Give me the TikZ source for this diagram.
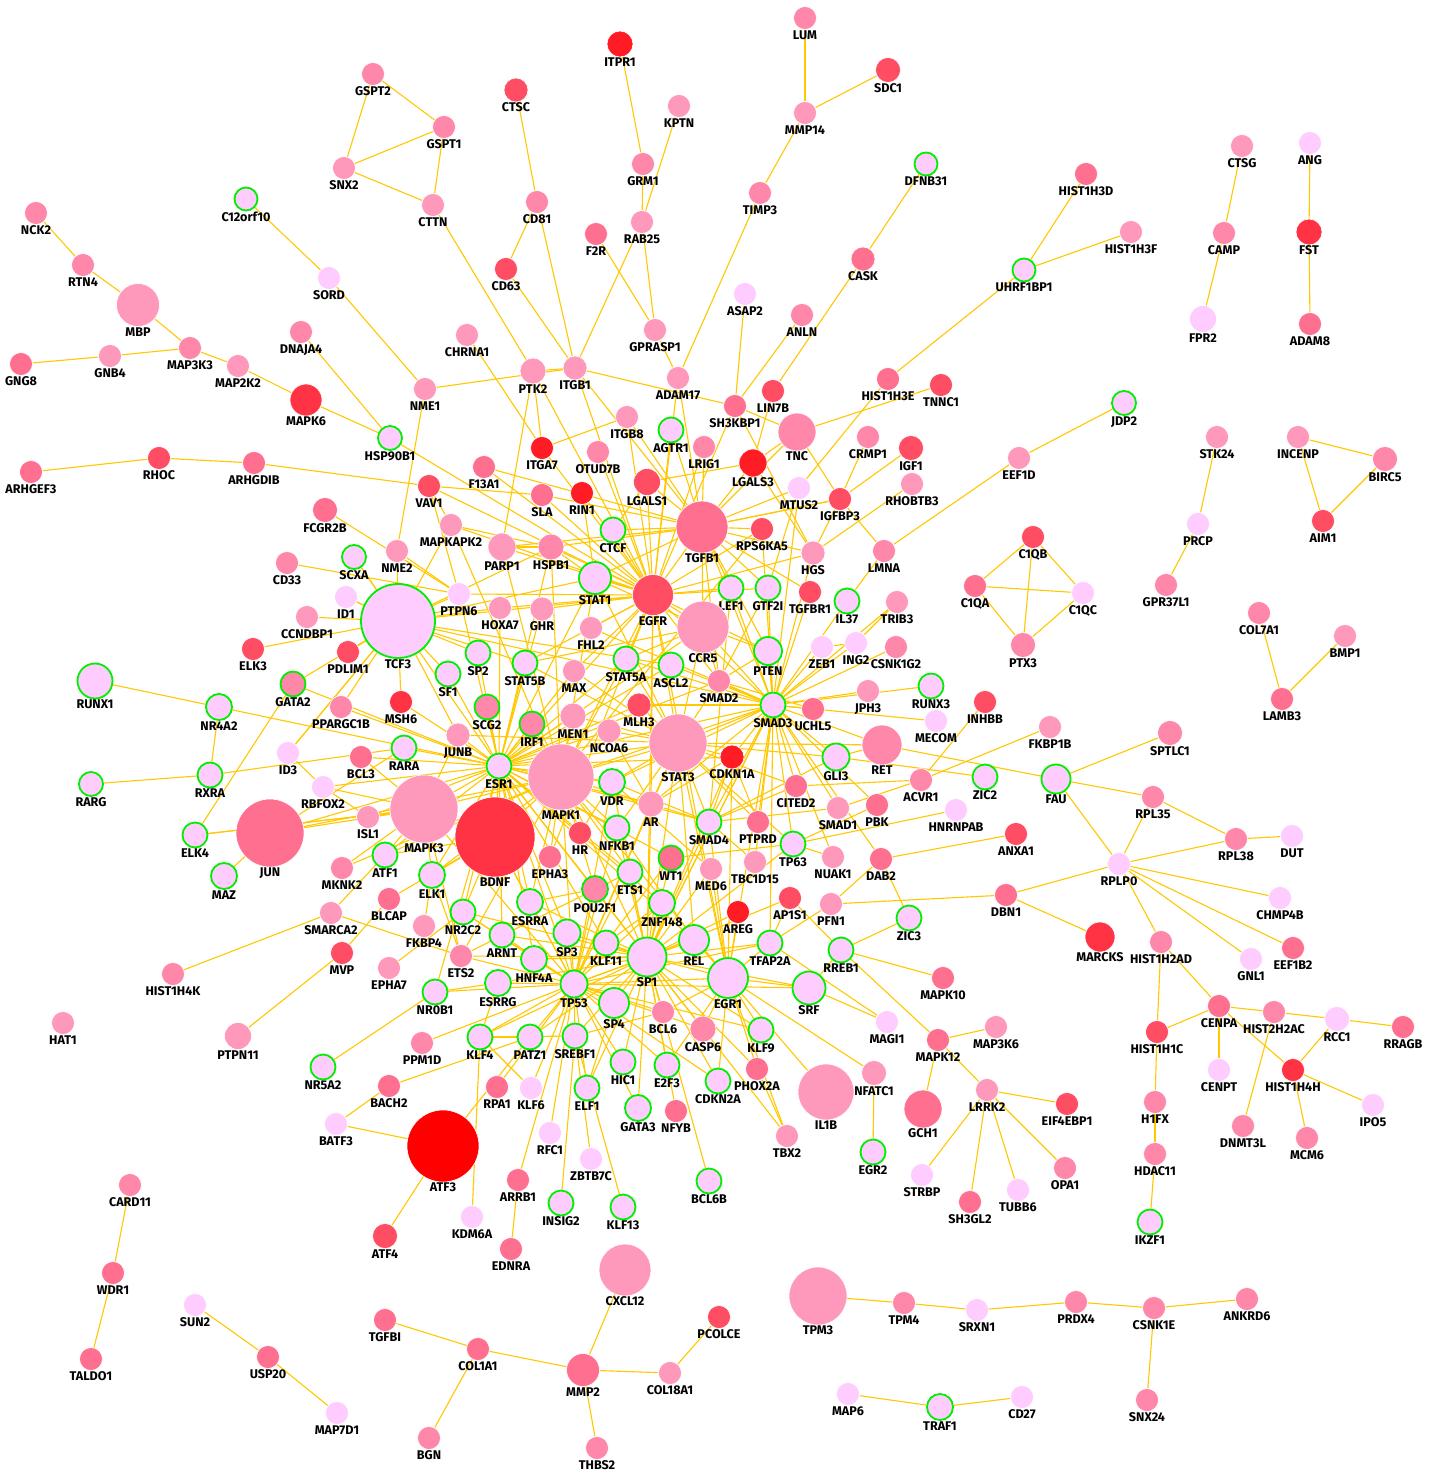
\documentclass[tikz,border=0pt]{standalone}
\usepackage{fontspec}
\newfontfamily\lblfont{Fira Sans}
\pgfdeclarelayer{back}
\pgfdeclarelayer{bg}
\pgfsetlayers{back,bg,main}
\definecolor{c0}{HTML}{FFCCFF}
\definecolor{c1}{HTML}{FF99BB}
\definecolor{c2}{HTML}{FF88AA}
\definecolor{c3}{HTML}{FF7090}
\definecolor{c4}{HTML}{FF4D63}
\definecolor{c5}{HTML}{FF3344}
\definecolor{c6}{HTML}{FF1C24}
\definecolor{c7}{HTML}{FF0000}
\definecolor{grn}{HTML}{00EE00}
\definecolor{edc}{HTML}{FFC800}
\newcommand\gnode[6]{\node[nd,minimum size={2*#4},fill=#5,#6,label={[lb]below:#1}] (#1) at (#2,#3) {};}
\begin{document}
\begin{tikzpicture}[x=1pt,y=-1pt,
  nd/.style={circle,inner sep=0pt,draw=white,line width=0.6pt},
  gr/.style={draw=grn,line width=1.8pt},
  lb/.style={font=\lblfont\bfseries\fontsize{12.6}{13}\selectfont,inner sep=0.3pt,text=black},
  ed/.style={draw=edc,line width=1.1pt}]
\begin{pgfonlayer}{back}
\fill[white] (0,0) rectangle (1440,1477);
\end{pgfonlayer}
\useasboundingbox (0,0) rectangle (1440,1477);
% ---- nodes
\gnode{NCK2}{36}{213}{11.5}{c2}{}
\gnode{RTN4}{83}{265}{11.5}{c2}{}
\gnode{MBP}{138}{305}{21.5}{c1}{}
\gnode{GNG8}{21}{364}{11.5}{c3}{}
\gnode{GNB4}{110}{356}{11.5}{c1}{}
\gnode{MAP3K3}{190}{348}{11.5}{c2}{}
\gnode{MAP2K2}{238}{366}{11.5}{c1}{}
\gnode{C12orf10}{246}{199}{11.5}{c0}{gr}
\gnode{SORD}{329}{278}{11.5}{c0}{}
\gnode{GSPT2}{373}{74}{11.5}{c2}{}
\gnode{GSPT1}{444}{127}{11.5}{c2}{}
\gnode{SNX2}{344}{168}{11.5}{c1}{}
\gnode{CTTN}{433}{205}{11.5}{c1}{}
\gnode{CTSC}{516}{90}{12}{c4}{}
\gnode{CD81}{537}{202}{11.5}{c2}{}
\gnode{CD63}{506}{269}{11.5}{c4}{}
\gnode{ITPR1}{620}{44}{13}{c6}{}
\gnode{KPTN}{679}{106}{11.5}{c1}{}
\gnode{GRM1}{643}{164}{11.5}{c2}{}
\gnode{RAB25}{642}{222}{11.5}{c1}{}
\gnode{F2R}{596}{234}{11.5}{c3}{}
\gnode{GPRASP1}{655}{330}{11.5}{c1}{}
\gnode{DNAJA4}{301}{332}{11.5}{c2}{}
\gnode{CHRNA1}{467}{335}{11.5}{c1}{}
\gnode{LUM}{805}{18}{11.5}{c2}{}
\gnode{SDC1}{888}{70}{12.5}{c4}{}
\gnode{MMP14}{805}{113}{11.5}{c1}{}
\gnode{TIMP3}{760}{193}{11.5}{c2}{}
\gnode{DFNB31}{926}{164}{11.5}{c0}{gr}
\gnode{CASK}{863}{259}{12}{c3}{}
\gnode{ASAP2}{745}{294}{11.5}{c0}{}
\gnode{ANLN}{802}{315}{11.5}{c2}{}
\gnode{HIST1H3D}{1086}{174}{11.5}{c3}{}
\gnode{HIST1H3F}{1131}{232}{11.5}{c1}{}
\gnode{UHRF1BP1}{1024}{270}{11.5}{c0}{gr}
\gnode{CTSG}{1242}{146}{11.5}{c1}{}
\gnode{CAMP}{1224}{233}{11.5}{c2}{}
\gnode{FPR2}{1203}{319}{13.5}{c0}{}
\gnode{ANG}{1310}{143}{11.5}{c0}{}
\gnode{FST}{1309}{232}{13}{c5}{}
\gnode{ADAM8}{1310}{324}{11.5}{c3}{}
\gnode{MAPK6}{306}{400}{16}{c5}{}
\gnode{NME1}{425}{389}{11.5}{c1}{}
\gnode{PTK2}{533}{371}{13}{c1}{}
\gnode{ITGB1}{575}{368}{12}{c1}{}
\gnode{ADAM17}{678}{378}{11.5}{c1}{}
\gnode{HIST1H3E}{888}{379}{11.5}{c3}{}
\gnode{TNNC1}{941}{385}{11.5}{c4}{}
\gnode{LIN7B}{773}{391}{11.5}{c4}{}
\gnode{SH3KBP1}{735}{406}{11.5}{c3}{}
\gnode{JDP2}{1124}{403}{12}{c0}{gr}
\gnode{HSP90B1}{390}{438}{12}{c0}{gr}
\gnode{ARHGEF3}{31}{472}{11.5}{c3}{}
\gnode{RHOC}{159}{458}{11.5}{c4}{}
\gnode{ARHGDIB}{254}{463}{11.5}{c3}{}
\gnode{VAV1}{429}{486}{11.5}{c4}{}
\gnode{F13A1}{484}{467}{11.5}{c3}{}
\gnode{ITGB8}{627}{417}{11.5}{c1}{}
\gnode{AGTR1}{671}{430}{12.5}{c0}{gr}
\gnode{ITGA7}{542}{448}{11.5}{c6}{}
\gnode{OTUD7B}{598}{452}{11.5}{c2}{}
\gnode{LRIG1}{704}{447}{11.5}{c2}{}
\gnode{LGALS3}{753}{463}{14}{c6}{}
\gnode{TNC}{797}{432}{19}{c2}{}
\gnode{CRMP1}{868}{437}{11.5}{c2}{}
\gnode{IGF1}{911}{448}{12.5}{c4}{}
\gnode{RHOBTB3}{912}{484}{11.5}{c1}{}
\gnode{IGFBP3}{840}{499}{11.5}{c4}{}
\gnode{MTUS2}{799}{488}{11.5}{c0}{}
\gnode{RPS6KA5}{762}{529}{11.5}{c4}{}
\gnode{LGALS1}{647}{482}{13.5}{c4}{}
\gnode{RIN1}{582}{493}{11.5}{c6}{}
\gnode{SLA}{542}{495}{11.5}{c3}{}
\gnode{TGFB1}{702}{527}{26}{c3}{}
\gnode{CTCF}{613}{530}{12.5}{c0}{gr}
\gnode{HGS}{813}{553}{12}{c1}{}
\gnode{LMNA}{884}{551}{11.5}{c2}{}
\gnode{EEF1D}{1019}{458}{11.5}{c1}{}
\gnode{STK24}{1217}{437}{11.5}{c1}{}
\gnode{INCENP}{1298}{437}{11.5}{c1}{}
\gnode{BIRC5}{1385}{459}{12.5}{c2}{}
\gnode{AIM1}{1323}{521}{11.5}{c4}{}
\gnode{PRCP}{1198}{524}{11.5}{c0}{}
\gnode{GPR37L1}{1166}{585}{11.5}{c2}{}
\gnode{C1QB}{1033}{537}{11.5}{c4}{}
\gnode{C1QA}{975}{586}{11.5}{c3}{}
\gnode{C1QC}{1083}{593}{11.5}{c0}{}
\gnode{PTX3}{1023}{645}{12.5}{c2}{}
\gnode{COL7A1}{1259}{613}{11.5}{c2}{}
\gnode{BMP1}{1345}{636}{11.5}{c1}{}
\gnode{LAMB3}{1282}{699}{11.5}{c3}{}
\gnode{FCGR2B}{325}{510}{12.5}{c3}{}
\gnode{MAPKAPK2}{451}{525}{11.5}{c1}{}
\gnode{PARP1}{502}{547}{14}{c1}{}
\gnode{HSPB1}{551}{547}{13}{c2}{}
\gnode{NME2}{397}{551}{11.5}{c1}{}
\gnode{CD33}{287}{563}{11.5}{c2}{}
\gnode{SCXA}{354}{557}{12}{c0}{gr}
\gnode{STAT1}{595}{578}{16}{c0}{gr}
\gnode{EGFR}{653}{595}{20.5}{c4}{}
\gnode{LEF1}{731}{588}{12.5}{c0}{gr}
\gnode{GTF2I}{768}{588}{12.5}{c0}{gr}
\gnode{TGFBR1}{810}{592}{11.5}{c4}{}
\gnode{IL37}{847}{601}{12.5}{c0}{gr}
\gnode{TRIB3}{897}{602}{11.5}{c1}{}
\gnode{ZEB1}{822}{647}{11.5}{c0}{}
\gnode{ING2}{856}{643}{11.5}{c0}{}
\gnode{CSNK1G2}{896}{647}{11.5}{c2}{}
\gnode{ID1}{346}{597}{11.5}{c0}{}
\gnode{CCNDBP1}{307}{617}{11.5}{c1}{}
\gnode{PTPN6}{459}{594}{11.5}{c0}{}
\gnode{HOXA7}{500}{608}{11.5}{c1}{}
\gnode{GHR}{542}{609}{12}{c1}{}
\gnode{FHL2}{591}{628}{11.5}{c1}{}
\gnode{CCR5}{703}{627}{26}{c1}{}
\gnode{ELK3}{253}{649}{11.5}{c4}{}
\gnode{PDLIM1}{348}{652}{11.5}{c4}{}
\gnode{TCF3}{398}{621}{37}{c0}{gr}
\gnode{SP2}{478}{653}{12.5}{c0}{gr}
\gnode{STAT5B}{525}{663}{12.5}{c0}{gr}
\gnode{STAT5A}{626}{659}{12.5}{c0}{gr}
\gnode{ASCL2}{671}{665}{12.5}{c0}{gr}
\gnode{MAX}{574}{671}{11.5}{c1}{}
\gnode{PTEN}{768}{651}{14}{c0}{gr}
\gnode{SMAD2}{719}{681}{11.5}{c2}{}
\gnode{GATA2}{293}{684}{12.5}{c2}{gr}
\gnode{SF1}{448}{674}{12.5}{c0}{gr}
\gnode{RUNX1}{95}{681}{17.5}{c0}{gr}
\gnode{NR4A2}{219}{707}{13}{c0}{gr}
\gnode{MSH6}{401}{702}{11.5}{c5}{}
\gnode{PPARGC1B}{341}{707}{11.5}{c2}{}
\gnode{SCG2}{487}{707}{12.5}{c2}{gr}
\gnode{IRF1}{532}{724}{12.5}{c2}{gr}
\gnode{MEN1}{573}{716}{13}{c1}{}
\gnode{MLH3}{639}{705}{12}{c4}{}
\gnode{SMAD3}{773}{705}{12.5}{c0}{gr}
\gnode{UCHL5}{813}{709}{11.5}{c3}{}
\gnode{JPH3}{868}{691}{11.5}{c1}{}
\gnode{RUNX3}{931}{686}{12.5}{c0}{gr}
\gnode{INHBB}{985}{702}{11.5}{c4}{}
\gnode{MECOM}{936}{721}{11.5}{c0}{}
\gnode{FKBP1B}{1050}{727}{11.5}{c1}{}
\gnode{SPTLC1}{1170}{733}{12.5}{c2}{}
\gnode{JUNB}{458}{735}{12}{c1}{}
\gnode{NCOA6}{609}{731}{12}{c1}{}
\gnode{STAT3}{678}{743}{29}{c1}{}
\gnode{CDKN1A}{732}{757}{12}{c6}{}
\gnode{GLI3}{836}{757}{13.5}{c0}{gr}
\gnode{RET}{882}{745}{20}{c2}{}
\gnode{ID3}{288}{753}{11.5}{c0}{}
\gnode{BCL3}{361}{757}{11.5}{c3}{}
\gnode{RARA}{404}{748}{12.5}{c0}{gr}
\gnode{ESR1}{499}{766}{12.5}{c0}{gr}
\gnode{MAPK1}{561}{777}{33}{c1}{}
\gnode{ZIC2}{985}{777}{12.5}{c0}{gr}
\gnode{FAU}{1056}{779}{14.5}{c0}{gr}
\gnode{ACVR1}{921}{780}{11.5}{c2}{}
\gnode{RXRA}{210}{775}{12.5}{c0}{gr}
\gnode{RARG}{91}{784}{12}{c0}{gr}
\gnode{RBFOX2}{323}{787}{11.5}{c0}{}
\gnode{MAPK3}{424}{809}{34}{c1}{}
\gnode{VDR}{612}{782}{13}{c0}{gr}
\gnode{CITED2}{796}{786}{11.5}{c3}{}
\gnode{JUN}{270}{833}{34}{c3}{}
\gnode{ISL1}{368}{817}{11.5}{c1}{}
\gnode{AR}{651}{804}{13}{c1}{}
\gnode{SMAD1}{838}{808}{11.5}{c1}{}
\gnode{PBK}{877}{805}{11.5}{c3}{}
\gnode{HNRNPAB}{956}{810}{11.5}{c0}{}
\gnode{RPL35}{1153}{797}{11.5}{c2}{}
\gnode{ELK4}{195}{835}{12.5}{c0}{gr}
\gnode{BDNF}{495}{837}{40}{c5}{}
\gnode{SMAD4}{709}{822}{12.5}{c0}{gr}
\gnode{PTPRD}{758}{822}{11.5}{c3}{}
\gnode{RPL38}{1236}{839}{11.5}{c2}{}
\gnode{DUT}{1292}{836}{11.5}{c0}{}
\gnode{ANXA1}{1016}{834}{11.5}{c4}{}
\gnode{HR}{580}{833}{11.5}{c4}{}
\gnode{NFKB1}{617}{828}{12.5}{c0}{gr}
\gnode{TP63}{793}{844}{12.5}{c0}{gr}
\gnode{MAZ}{224}{876}{13}{c0}{gr}
\gnode{ATF1}{385}{855}{12.5}{c0}{gr}
\gnode{MKNK2}{342}{868}{11.5}{c2}{}
\gnode{ELK1}{432}{875}{13}{c0}{gr}
\gnode{WT1}{671}{858}{12.5}{c3}{gr}
\gnode{EPHA3}{550}{857}{11.5}{c3}{}
\gnode{TBC1D15}{755}{862}{11.5}{c1}{}
\gnode{NUAK1}{833}{857}{11.5}{c1}{}
\gnode{DAB2}{881}{859}{11.5}{c3}{}
\gnode{RPLP0}{1119}{864}{11.5}{c0}{}
\gnode{ETS1}{630}{872}{12.5}{c0}{gr}
\gnode{MED6}{711}{869}{11.5}{c1}{}
\gnode{BLCAP}{389}{899}{11.5}{c3}{}
\gnode{AP1S1}{790}{898}{11.5}{c4}{}
\gnode{PFN1}{831}{904}{11.5}{c1}{}
\gnode{CHMP4B}{1280}{898}{11.5}{c0}{}
\gnode{DBN1}{1006}{895}{11.5}{c3}{}
\gnode{SMARCA2}{331}{913}{11.5}{c1}{}
\gnode{POU2F1}{595}{889}{13}{c2}{gr}
\gnode{ZNF148}{662}{903}{13}{c0}{gr}
\gnode{AREG}{738}{912}{11.5}{c6}{}
\gnode{FKBP4}{424}{926}{11.5}{c1}{}
\gnode{ESRRA}{530}{902}{13}{c0}{gr}
\gnode{NR2C2}{463}{912}{12.5}{c0}{gr}
\gnode{ZIC3}{909}{918}{12.5}{c0}{gr}
\gnode{MARCKS}{1100}{937}{15}{c5}{}
\gnode{HIST1H2AD}{1161}{942}{11.5}{c2}{}
\gnode{ARNT}{502}{935}{12.5}{c0}{gr}
\gnode{SP3}{567}{933}{13.5}{c0}{gr}
\gnode{KLF11}{606}{943}{12.5}{c0}{gr}
\gnode{SP1}{647}{957}{19.5}{c0}{gr}
\gnode{REL}{694}{940}{15}{c0}{gr}
\gnode{EGR1}{728}{978}{20}{c0}{gr}
\gnode{TFAP2A}{770}{943}{12.5}{c0}{gr}
\gnode{RREB1}{841}{950}{12.5}{c0}{gr}
\gnode{MVP}{342}{953}{11.5}{c4}{}
\gnode{ETS2}{461}{956}{11.5}{c2}{}
\gnode{HNF4A}{534}{959}{13}{c0}{gr}
\gnode{EPHA7}{389}{968}{11.5}{c1}{}
\gnode{ESRRG}{498}{983}{13}{c0}{gr}
\gnode{GNL1}{1251}{959}{11.5}{c0}{}
\gnode{EEF1B2}{1293}{948}{11.5}{c3}{}
\gnode{MAPK10}{943}{978}{11.5}{c3}{}
\gnode{SRF}{809}{988}{16.5}{c0}{gr}
\gnode{TP53}{574}{984}{13.5}{c0}{gr}
\gnode{NR0B1}{435}{992}{12.5}{c0}{gr}
\gnode{HIST1H4K}{173}{974}{11.5}{c2}{}
\gnode{SP4}{614}{1003}{15}{c0}{gr}
\gnode{CENPA}{1219}{1006}{11.5}{c3}{}
\gnode{HIST2H2AC}{1274}{1012}{11.5}{c2}{}
\gnode{RCC1}{1337}{1019}{12.5}{c0}{}
\gnode{RRAGB}{1403}{1027}{11.5}{c3}{}
\gnode{MAP3K6}{996}{1027}{11.5}{c1}{}
\gnode{MAGI1}{887}{1022}{11.5}{c0}{}
\gnode{BCL6}{663}{1012}{11.5}{c2}{}
\gnode{KLF9}{761}{1030}{12.5}{c0}{gr}
\gnode{CASP6}{703}{1029}{13}{c2}{}
\gnode{HAT1}{63}{1023}{11.5}{c1}{}
\gnode{PTPN11}{238}{1036}{13.5}{c1}{}
\gnode{NR5A2}{323}{1067}{12.5}{c0}{gr}
\gnode{KLF4}{480}{1037}{12.5}{c0}{gr}
\gnode{PATZ1}{530}{1037}{12.5}{c0}{gr}
\gnode{SREBF1}{575}{1036}{12.5}{c0}{gr}
\gnode{PPM1D}{422}{1043}{11.5}{c2}{}
\gnode{MAPK12}{938}{1040}{11.5}{c3}{}
\gnode{HIST1H1C}{1157}{1032}{11.5}{c4}{}
\gnode{HIST1H4H}{1293}{1070}{11.5}{c5}{}
\gnode{CENPT}{1219}{1070}{11.5}{c0}{}
\gnode{NFATC1}{874}{1073}{12.5}{c1}{}
\gnode{HIC1}{623}{1062}{12.5}{c0}{gr}
\gnode{E2F3}{667}{1065}{12.5}{c0}{gr}
\gnode{CDKN2A}{718}{1081}{12.5}{c0}{gr}
\gnode{PHOX2A}{757}{1069}{11.5}{c3}{}
\gnode{IL1B}{826}{1092}{28}{c1}{}
\gnode{LRRK2}{987}{1090}{11.5}{c1}{}
\gnode{BACH2}{389}{1086}{11.5}{c3}{}
\gnode{RPA1}{497}{1087}{11.5}{c3}{}
\gnode{KLF6}{531}{1088}{11.5}{c0}{}
\gnode{ELF1}{587}{1088}{12.5}{c0}{gr}
\gnode{GATA3}{638}{1108}{13}{c0}{gr}
\gnode{NFYB}{676}{1111}{11.5}{c3}{}
\gnode{GCH1}{923}{1109}{19}{c3}{}
\gnode{EIF4EBP1}{1067}{1104}{11.5}{c4}{}
\gnode{H1FX}{1155}{1102}{11.5}{c2}{}
\gnode{IPO5}{1373}{1105}{11.5}{c0}{}
\gnode{BATF3}{336}{1124}{11.5}{c0}{}
\gnode{ATF3}{443}{1146}{36}{c7}{}
\gnode{RFC1}{550}{1133}{11.5}{c0}{}
\gnode{TBX2}{787}{1136}{11.5}{c1}{}
\gnode{DNMT3L}{1243}{1126}{11.5}{c2}{}
\gnode{MCM6}{1307}{1138}{11.5}{c2}{}
\gnode{HDAC11}{1155}{1154}{11.5}{c2}{}
\gnode{EGR2}{873}{1152}{12.5}{c0}{gr}
\gnode{ZBTB7C}{591}{1159}{11.5}{c0}{}
\gnode{STRBP}{922}{1175}{11.5}{c0}{}
\gnode{OPA1}{1065}{1168}{11.5}{c2}{}
\gnode{SH3GL2}{970}{1202}{11.5}{c3}{}
\gnode{TUBB6}{1018}{1190}{11.5}{c0}{}
\gnode{ARRB1}{518}{1180}{11.5}{c3}{}
\gnode{BCL6B}{709}{1181}{12.5}{c0}{gr}
\gnode{INSIG2}{561}{1203}{12.5}{c0}{gr}
\gnode{KLF13}{623}{1207}{12.5}{c0}{gr}
\gnode{CARD11}{130}{1185}{11.5}{c2}{}
\gnode{ATF4}{385}{1236}{12.5}{c4}{}
\gnode{KDM6A}{472}{1217}{11.5}{c0}{}
\gnode{IKZF1}{1150}{1222}{12.5}{c0}{gr}
\gnode{EDNRA}{511}{1249}{11.5}{c3}{}
\gnode{WDR1}{113}{1273}{11.5}{c3}{}
\gnode{CXCL12}{625}{1270}{26}{c1}{}
\gnode{TPM3}{818}{1296}{29}{c1}{}
\gnode{SUN2}{195}{1305}{11.5}{c0}{}
\gnode{TPM4}{904}{1303}{11.5}{c2}{}
\gnode{SRXN1}{977}{1310}{11.5}{c0}{}
\gnode{PRDX4}{1076}{1302}{11.5}{c2}{}
\gnode{CSNK1E}{1154}{1308}{11.5}{c2}{}
\gnode{ANKRD6}{1247}{1299}{11.5}{c2}{}
\gnode{PCOLCE}{719}{1317}{11.5}{c4}{}
\gnode{TGFBI}{385}{1320}{11.5}{c3}{}
\gnode{COL1A1}{478}{1349}{11.5}{c3}{}
\gnode{USP20}{268}{1357}{11.5}{c3}{}
\gnode{TALDO1}{91}{1359}{11.5}{c3}{}
\gnode{MMP2}{583}{1370}{16.5}{c3}{}
\gnode{COL18A1}{670}{1373}{11.5}{c1}{}
\gnode{SNX24}{1147}{1400}{11.5}{c2}{}
\gnode{MAP6}{848}{1394}{11.5}{c0}{}
\gnode{TRAF1}{940}{1407}{13}{c0}{gr}
\gnode{CD27}{1022}{1397}{11.5}{c0}{}
\gnode{MAP7D1}{337}{1413}{11.5}{c0}{}
\gnode{BGN}{429}{1438}{11.5}{c2}{}
\gnode{THBS2}{597}{1448}{11.5}{c2}{}
% ---- edges
\begin{pgfonlayer}{bg}
\foreach \a/\b in {NCK2/RTN4,RTN4/MBP,MBP/MAP3K3,GNG8/GNB4,GNB4/MAP3K3,MAP3K3/MAP2K2,MAP2K2/MAPK6,MAPK6/HSP90B1,DNAJA4/HSP90B1,
C12orf10/SORD,SORD/NME1,GSPT2/GSPT1,GSPT2/SNX2,SNX2/GSPT1,SNX2/CTTN,GSPT1/CTTN,CTTN/PTK2,CTSC/CD81,CD81/CD63,CD81/ITGB1,CD63/ITGB1,
ITPR1/GRM1,GRM1/RAB25,KPTN/RAB25,RAB25/GPRASP1,RAB25/ITGB1,F2R/GPRASP1,GPRASP1/ADAM17,LUM/MMP14,SDC1/MMP14,MMP14/TIMP3,TIMP3/ADAM17,
DFNB31/CASK,CASK/LIN7B,ANLN/SH3KBP1,ASAP2/SH3KBP1,HIST1H3D/UHRF1BP1,HIST1H3F/UHRF1BP1,UHRF1BP1/HIST1H3E,HIST1H3E/MTUS2,TNNC1/TNC,
CTSG/CAMP,CAMP/FPR2,ANG/FST,FST/ADAM8,JDP2/EEF1D,EEF1D/LMNA,STK24/PRCP,PRCP/GPR37L1,INCENP/BIRC5,INCENP/AIM1,BIRC5/AIM1,
C1QB/C1QA,C1QB/C1QC,C1QB/PTX3,C1QA/C1QC,C1QA/PTX3,C1QC/PTX3,COL7A1/LAMB3,BMP1/LAMB3,ARHGEF3/RHOC,RHOC/ARHGDIB,ARHGDIB/VAV1,VAV1/SLA,
NME1/NME2,NME1/ITGB1,CHRNA1/ITGA7,ITGA7/ITGB8,PTK2/ITGB1,PTK2/PARP1,PTK2/ITGA7,
FAU/SPTLC1,FAU/RPL35,FAU/RPLP0,RET/FAU,GLI3/ZIC2,ACVR1/FKBP1B,INHBB/ACVR1,ACVR1/SMAD1,CITED2/ACVR1,
RPL35/RPLP0,RPL35/RPL38,RPL38/RPLP0,RPL38/DUT,RPLP0/CHMP4B,RPLP0/EEF1B2,RPLP0/GNL1,RPLP0/HIST1H2AD,RPLP0/DBN1,DBN1/MARCKS,DBN1/PFN1,
HIST1H2AD/HIST1H1C,HIST1H2AD/CENPA,CENPA/HIST1H1C,CENPA/CENPT,CENPA/HIST2H2AC,CENPA/HIST1H4H,HIST2H2AC/RCC1,HIST2H2AC/DNMT3L,RCC1/RRAGB,
RCC1/HIST1H4H,HIST1H4H/IPO5,HIST1H4H/MCM6,HIST1H1C/H1FX,H1FX/HDAC11,HDAC11/IKZF1,ANXA1/DAB2,HNRNPAB/TP63,DAB2/ZIC3,ZIC3/RREB1,DAB2/PFN1,
RREB1/MAPK10,RREB1/MAPK12,RREB1/SRF,AP1S1/RREB1,TFAP2A/PFN1,MAPK12/MAP3K6,MAPK12/LRRK2,MAPK12/GCH1,LRRK2/EIF4EBP1,LRRK2/STRBP,
LRRK2/SH3GL2,LRRK2/TUBB6,LRRK2/OPA1,TFAP2A/MAGI1,EGR1/NFATC1,EGR1/SRF,EGR1/IL1B,NFATC1/EGR2,PHOX2A/TBX2,
CARD11/WDR1,WDR1/TALDO1,SUN2/USP20,USP20/MAP7D1,TGFBI/COL1A1,COL1A1/BGN,COL1A1/MMP2,MMP2/COL18A1,MMP2/THBS2,MMP2/CXCL12,PCOLCE/COL18A1,
TPM3/TPM4,TPM4/SRXN1,SRXN1/PRDX4,PRDX4/CSNK1E,CSNK1E/ANKRD6,CSNK1E/SNX24,MAP6/TRAF1,TRAF1/CD27,ATF3/ATF4,ATF3/BATF3,NR5A2/NR0B1,
HIST1H4K/SMARCA2,SMARCA2/ETS2,SMARCA2/ATF1,MVP/PTPN11,MVP/BLCAP,EPHA7/NR2C2,FKBP4/ELK1,PPM1D/TP53,BATF3/BACH2,BACH2/PATZ1,ATF3/PATZ1,
KDM6A/KLF4,EDNRA/ARRB1,ARRB1/TP53,RFC1/TP53,ZBTB7C/SREBF1,KLF13/SREBF1,ELF1/SP4,SREBF1/BCL6,INSIG2/SREBF1,KLF6/KLF4,
RUNX1/ESR1,NR4A2/RXRA,RARG/RXRA,RXRA/RARA,ELK4/GATA2,GATA2/TCF3,GATA2/ESR1,PPARGC1B/ESR1,ELK3/TCF3,CCNDBP1/TCF3,ID1/TCF3,ID3/TCF3,
ID3/RBFOX2,RBFOX2/ESR1,RBFOX2/ISL1,JUN/MAPK3,JUN/RARA,ELK4/MAPK3,MAZ/JUN,ATF1/ESR1,ATF1/BDNF,MKNK2/MAPK3,BLCAP/BDNF,ELK1/ETS2,
NR2C2/TP53,NR0B1/ESRRG,NR0B1/ESR1,ETS2/SP1,ETS2/TP53,
SCXA/TCF3,NME2/TCF3,NME2/PTPN6,CD33/PTPN6,FCGR2B/PTPN6,VAV1/MAPKAPK2,VAV1/PTPN6,MAPKAPK2/HSPB1,MAPKAPK2/TCF3,HSP90B1/EGFR,
IGFBP3/IGF1,IGFBP3/CRMP1,IGFBP3/HGS,IGFBP3/LMNA,TNC/IGFBP3,RHOBTB3/HGS,IL37/LMNA,ING2/TRIB3,ZEB1/ING2,LGALS1/LGALS3,
SH3KBP1/ITGB1,SH3KBP1/HGS,LGALS3/HGS,TNC/SH3KBP1,TNC/LGALS3,MTUS2/GTF2I,LIN7B/LGALS3,
SREBF1/KLF4,PATZ1/KLF4,KLF4/ESRRG,BDNF/NR2C2,BDNF/ELK1,BDNF/ESRRA,CTCF/LGALS1,RIN1/STAT1,PARP1/HSPB1,
HSPB1/STAT1,F13A1/EGFR,IGFBP3/TGFB1,LEF1/SMAD4,GTF2I/SMAD2,PTEN/SMAD2,CDKN1A/SMAD4,CDKN1A/AR,AR/SMAD4,AR/NCOA6,VDR/SMAD4,NFKB1/REL,
WT1/TP63,ETS1/ETS2,POU2F1/ESRRA,ZNF148/KLF11,TFAP2A/AP1S1,SRF/MAGI1,MED6/VDR,TBC1D15/SMAD4,PTPRD/CDKN1A,NUAK1/TP63,CITED2/SMAD4,PBK/TP63,
SMAD1/SMAD4,UCHL5/SMAD2,GLI3/SMAD4,RET/GLI3,HR/VDR,EPHA3/EGFR}
  \draw[ed] (\a) -- (\b);
% hubs
\foreach \b in {ITGB1,PTK2,ITGA7,RIN1,SLA,LGALS1,SH3KBP1,LRIG1,AGTR1,ADAM17,CTCF,STAT1,HSPB1,PARP1,PTPN6,HOXA7,GHR,STAT5A,STAT5B,CCR5,TGFB1,
SMAD3,HGS,STAT3,ESR1,MAPK1,AR,SP1,PTEN,EGR1,VAV1,ITGB8,RPS6KA5,MAPKAPK2,OTUD7B,FHL2,MAX,SMAD2,GTF2I,LEF1,TCF3}
  \draw[ed] (EGFR) -- (\b);
\foreach \b in {LGALS1,LGALS3,ITGB8,AGTR1,LRIG1,TNC,ITGB1,CTCF,STAT1,GTF2I,TGFBR1,HGS,SMAD3,SMAD2,RPS6KA5,IGFBP3,CCR5,SLA,HSPB1,PARP1,
ADAM17,MTUS2,F13A1,LEF1,PTEN}
  \draw[ed] (TGFB1) -- (\b);
\foreach \b in {PTEN,ZEB1,ING2,IL37,TGFBR1,GTF2I,HGS,RPS6KA5,SMAD2,SMAD4,CDKN1A,GLI3,UCHL5,JPH3,RUNX3,MECOM,CITED2,SMAD1,TP63,PBK,NUAK1,
DAB2,AR,VDR,ASCL2,STAT5A,CCR5,TRIB3,CSNK1G2,SP1,EGR1,TFAP2A,TBC1D15,MLH3,RET,LEF1,PTPRD,FHL2,STAT3,MTUS2}
  \draw[ed] (SMAD3) -- (\b);
\foreach \b in {STAT1,STAT5A,STAT5B,CCR5,SMAD2,NCOA6,CDKN1A,EGR1,TP53,JUNB,RET,CITED2,PTPRD,SMAD4,REL,TP63,MLH3,MEN1,MAX,NFKB1,GLI3,AR,VDR,SP1}
  \draw[ed] (STAT3) -- (\b);
\foreach \b in {MAPK3,BDNF,STAT3,AR,VDR,SP1,TP53,ELK1,ETS1,EGR1,JUN,NFKB1,HR,MEN1,STAT1,STAT5A,SMAD3,ATF1,MKNK2,MAPKAPK2,RPS6KA5,
PARP1,HSPB1,IRF1,ETS2,EPHA3,POU2F1,ESRRA}
  \draw[ed] (MAPK1) -- (\b);
\foreach \b in {TCF3,SP2,SF1,SCG2,IRF1,JUNB,RARA,MSH6,BCL3,MAPK3,BDNF,STAT5B,STAT5A,MEN1,NCOA6,VDR,AR,SP1,TP53,SP3,ESRRA,ELK1,NR2C2,
ETS1,POU2F1,SMAD3,HSPB1,PTPN6,JUN,ISL1,MAX,GHR,HOXA7,STAT1,SMAD4,NFKB1,KLF11,ZNF148,REL,CCR5,CDKN1A,SMAD2,ASCL2,MLH3,ARNT,HNF4A,WT1,STAT3,MAPK1}
  \draw[ed] (ESR1) -- (\b);
\foreach \b in {ID1,ID3,SCXA,PTPN6,SF1,SP2,PDLIM1,JUNB,STAT1,HOXA7,ASCL2,HSPB1,MSH6,SMAD3,PPARGC1B,STAT5B}
  \draw[ed] (TCF3) -- (\b);
\foreach \b in {STAT1,STAT5B,LEF1,SMAD2,PTEN,STAT5A}
  \draw[ed] (CCR5) -- (\b);
\foreach \b in {KLF11,SP3,SP4,TP53,REL,EGR1,ZNF148,POU2F1,ETS1,WT1,NFKB1,VDR,AR,SREBF1,PATZ1,KLF4,HNF4A,ESRRA,ARNT,ESRRG,HIC1,E2F3,BCL6,
CASP6,CDKN2A,KLF9,GATA3,ELF1,BCL6B,TFAP2A,SRF,SMAD4,MED6,NFYB,PHOX2A,TBX2,NR2C2,AREG,CDKN1A,TP63,AP1S1,SMAD3}
  \draw[ed] (SP1) -- (\b);
\foreach \b in {KLF4,PATZ1,SREBF1,HNF4A,ESRRG,ARNT,NR2C2,NR0B1,ESRRA,SP3,KLF11,STAT3,EGR1,WT1,KLF6,RPA1,SP4,REL,
POU2F1,ETS1,ZNF148,HIC1,NFKB1,VDR,AR,ELF1,GATA3,E2F3,BCL6,CDKN2A,TFAP2A,SRF,KLF9,CASP6,MAPK3,BDNF}
  \draw[ed] (TP53) -- (\b);
\foreach \b in {TFAP2A,REL,KLF9,CDKN2A,PHOX2A,CASP6,TBX2,E2F3,BCL6,SMAD4,CDKN1A,AREG,MED6}
  \draw[ed] (EGR1) -- (\b);
\foreach \b in {ELK1,ATF1,ISL1,RBFOX2,BCL3,JUNB,ETS2,ELK4}
  \draw[ed] (MAPK3) -- (\b);
\end{pgfonlayer}
\end{tikzpicture}
\end{document}
